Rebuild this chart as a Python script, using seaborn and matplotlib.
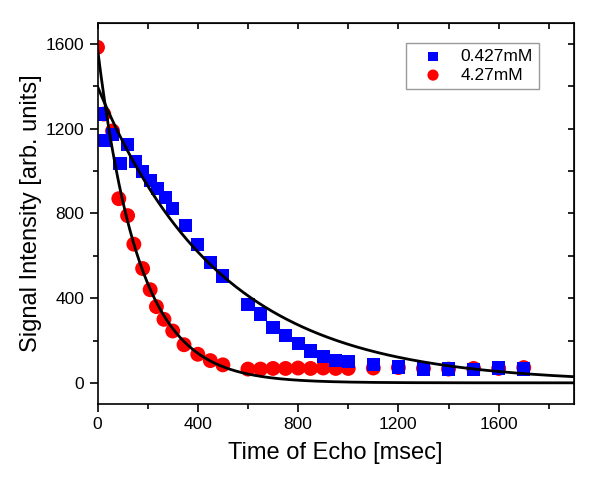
import numpy as np
import pandas as pd
import matplotlib
matplotlib.use("Agg")
from matplotlib import pyplot as plt
from matplotlib.ticker import MultipleLocator
import seaborn as sns

# 0.427mM series (blue squares)
t_low = [10, 30, 60, 90, 120, 150, 180, 210, 240, 270, 300, 350, 400, 450, 500,
         600, 650, 700, 750, 800, 850, 900, 950, 1000, 1100, 1200, 1300, 1400,
         1500, 1600, 1700]
s_low = [1270, 1145, 1175, 1035, 1125, 1045, 1000, 955, 920, 875, 825, 745, 655,
         570, 505, 370, 325, 260, 225, 185, 150, 125, 105, 100, 85, 75, 65, 65,
         62, 70, 65]

# 4.27mM series (red circles)
t_high = [0, 25, 60, 85, 120, 145, 180, 210, 235, 265, 300, 345, 400, 450, 500,
          600, 650, 700, 750, 800, 850, 900, 950, 1000, 1100, 1200, 1300, 1400,
          1500, 1600, 1700]
s_high = [1585, 1270, 1190, 870, 790, 655, 540, 440, 360, 300, 245, 180, 135,
          105, 85, 65, 65, 68, 68, 70, 68, 70, 68, 68, 70, 72, 68, 65, 68, 68, 72]

# exponential fit parameters (amplitude, decay time in msec)
fit_low = (1400, 490)
fit_high = (1580, 165)

sns.set_style("ticks")
plt.rcParams['font.family'] = ['Liberation Sans', 'DejaVu Sans']
plt.rcParams['text.color'] = 'black'
plt.rcParams['axes.labelcolor'] = 'black'

df_low = pd.DataFrame({'t': t_low, 's': s_low})
df_high = pd.DataFrame({'t': t_high, 's': s_high})

tt = np.linspace(0, 1900, 400)
fit_df_low = pd.DataFrame({'t': tt, 's': fit_low[0] * np.exp(-tt / fit_low[1])})
fit_df_high = pd.DataFrame({'t': tt, 's': fit_high[0] * np.exp(-tt / fit_high[1])})

fig = plt.figure(figsize=(6, 5.04), dpi=100)
ax = fig.add_axes([0.1625, 0.1984, 0.794, 0.756])

sns.scatterplot(data=df_low, x='t', y='s', marker='s', s=90, color='#0000ff',
                edgecolor='none', label='0.427mM', ax=ax, zorder=2)
sns.scatterplot(data=df_high, x='t', y='s', marker='o', s=115, color='#ff0000',
                edgecolor='none', label='4.27mM', ax=ax, zorder=1)
sns.lineplot(data=fit_df_low, x='t', y='s', color='black', lw=2.0, ax=ax, zorder=3)
sns.lineplot(data=fit_df_high, x='t', y='s', color='black', lw=2.0, ax=ax, zorder=3)

ax.set_xlim(0, 1900)
ax.set_ylim(-100, 1700)
ax.xaxis.set_major_locator(MultipleLocator(400))
ax.xaxis.set_minor_locator(MultipleLocator(200))
ax.yaxis.set_major_locator(MultipleLocator(400))
ax.yaxis.set_minor_locator(MultipleLocator(200))

for sp in ax.spines.values():
    sp.set_visible(True)
    sp.set_linewidth(1.2)
    sp.set_color('black')

ax.tick_params(which='major', direction='out', length=6, width=1.2, labelsize=12.5,
               colors='black')
ax.tick_params(which='minor', direction='out', length=3.5, width=1.2, colors='black')

# mirrored inward ticks on top and right
top = ax.secondary_xaxis('top')
top.xaxis.set_major_locator(MultipleLocator(200))
top.tick_params(direction='in', length=4, width=1.2, labeltop=False, colors='black')
right = ax.secondary_yaxis('right')
right.yaxis.set_major_locator(MultipleLocator(200))
right.tick_params(direction='in', length=4, width=1.2, labelright=False, colors='black')

ax.set_xlabel('Time of Echo [msec]', fontsize=17, labelpad=7)
ax.set_ylabel('Signal Intensity [arb. units]', fontsize=17, labelpad=3)

handles, labels = ax.get_legend_handles_labels()
leg = ax.legend(handles[:2], labels[:2], loc='upper right',
                bbox_to_anchor=(0.927, 0.948), borderaxespad=0, fontsize=12.5,
                frameon=True, fancybox=False, edgecolor='#999999', framealpha=1,
                handlelength=2.4, handletextpad=0.4, borderpad=0.35,
                labelspacing=0.2, markerscale=0.75)
leg.get_frame().set_linewidth(1.0)

plt.savefig('out.png', dpi=100)
